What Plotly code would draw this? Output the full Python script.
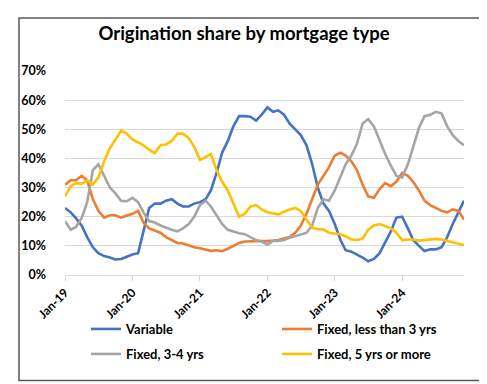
import plotly.graph_objects as go
import pandas as pd

dates = pd.date_range("2019-01-01", periods=72, freq="MS")

variable = [23, 21.5, 19.5, 17, 13, 9.5, 7.5, 6.5, 6, 5.3, 5.5, 6.3,
            7, 7.5, 15, 23, 24.5, 24.5, 25.5, 26, 24.5, 23.5, 23.5, 24.5,
            25, 26, 29, 35, 42, 46, 51, 54.5, 54.5, 54.3, 53, 55,
            57.5, 56, 56.5, 55, 52, 50, 48, 44.5, 38, 30, 24.5, 22,
            17.5, 12, 8.5, 8, 7, 6, 4.7, 5.5, 7.5, 11, 15, 19.7,
            20, 16, 12, 10, 8.2, 8.8, 8.8, 9.5, 13, 17.5, 21.5, 25.5]

fixed_lt3 = [31, 32.5, 32.5, 34, 32.5, 26, 22, 19.7, 20.5, 20.5, 19.7, 20.3,
             21, 22, 18, 16, 15.2, 14.5, 13, 12, 11, 10.8, 10.2, 9.5,
             9.2, 8.8, 8.3, 8.5, 8.2, 9, 10, 11, 11.5, 11.5, 11.7, 11.7,
             11.7, 11.8, 12, 12.5, 13, 14.5, 17, 21, 26, 31, 34, 37,
             41, 42, 41, 39, 36, 31, 27, 26.5, 29.5, 31.5, 30.5, 32,
             35, 34, 32, 29, 25.5, 24, 23, 22, 21.5, 22.5, 22, 19]

fixed_3_4 = [18.5, 15.5, 16.5, 19.5, 25, 36, 38, 34, 30, 28, 25.5, 25.3,
             26.5, 25, 21.5, 18.5, 18, 17, 16.2, 15.5, 15, 16, 17.5, 20,
             24, 25.5, 23.5, 20.5, 17.5, 15.5, 14.8, 14.3, 14, 13, 12, 11.5,
             10.5, 11.7, 11.7, 12, 12.8, 13.3, 13.9, 14.5, 17, 23, 26, 25.5,
             29, 34, 38, 41, 45, 52, 53.5, 51, 46, 41.5, 37.5, 34,
             33.5, 38, 44, 50.5, 54.5, 55, 56, 55.5, 51, 48, 46, 44.5]

fixed_5plus = [27, 30.5, 31.5, 31.3, 32.5, 31, 33.5, 39, 43.5, 46.5, 49.5, 48.5,
               46.5, 45.5, 44.5, 43, 41.8, 44.5, 44.8, 46, 48.5, 48.5, 47, 44,
               39.5, 40.5, 41.5, 36, 32, 29, 24.5, 20, 21, 23.5, 24, 22.5,
               21.5, 21.2, 20.8, 21.7, 22.5, 23, 22, 19, 16.2, 15.8, 15.6, 14.5,
               14.2, 14, 13.3, 12.2, 12, 12.5, 15.5, 17, 17.5, 16.8, 16, 14.5,
               12, 12.2, 12.2, 11.8, 12, 12.3, 12.4, 12.2, 11.7, 11.2, 10.6, 10.3]

series_names = ["Variable", "Fixed, less than 3 yrs", "Fixed, 3-4 yrs", "Fixed, 5 yrs or more"]
series_values = [variable, fixed_lt3, fixed_3_4, fixed_5plus]
colors = ["#4472C4", "#ED7D31", "#A5A5A5", "#FFC000"]
legends = ["legend", "legend", "legend2", "legend2"]

FONT = "Lato"

fig = go.Figure()
for name, vals, col, lg in zip(series_names, series_values, colors, legends):
    fig.add_trace(go.Scatter(
        x=dates, y=[v / 100 for v in vals], mode="lines", name=name,
        line=dict(color=col, width=2.6), legend=lg,
    ))

W, H = 487, 384
ml, mr, mt, mb = 57, 31, 63, 117
pw = W - ml - mr
ph = H - mt - mb

def px2x(px):
    return (px - ml) / pw

def px2y(py):
    return (H - mb - py) / ph

legend_common = dict(
    orientation="h", xanchor="left", yanchor="middle",
    font=dict(family=FONT, size=13, color="#000", weight="bold"),
    entrywidth=146, entrywidthmode="pixels",
    bgcolor="rgba(0,0,0,0)", itemwidth=30,
)

fig.update_layout(
    width=W, height=H,
    margin=dict(l=ml, r=mr, t=mt, b=mb),
    paper_bgcolor="white", plot_bgcolor="white",
    title=dict(text="<b>Origination share by mortgage type</b>",
               x=px2x(236), xref="paper", xanchor="center",
               y=1 - 26 / H, yanchor="middle",
               font=dict(family=FONT, size=18.5, color="#000")),
    showlegend=True,
    legend=dict(x=px2x(78), y=px2y(321), **legend_common),
    legend2=dict(x=px2x(78), y=px2y(346), **legend_common),
    xaxis=dict(
        type="date",
        range=[dates[0], dates[-1]],
        tickformat="%b-%y", dtick="M12", tick0="2019-01-01",
        tickangle=-45,
        showgrid=False, showline=True, linecolor="#D9D9D9", linewidth=1,
        ticks="outside", ticklen=5, tickcolor="#D9D9D9",
        tickfont=dict(family=FONT, size=12, color="#000", weight="bold"),
        ticklabelstandoff=0,
    ),
    yaxis=dict(
        range=[0, 0.7], dtick=0.1, tickformat=".0%",
        showgrid=True, gridcolor="#D9D9D9", gridwidth=1,
        zeroline=False, showline=False,
        tickfont=dict(family=FONT, size=12.5, color="#000", weight="bold"),
        ticklabelstandoff=18,
    ),
    shapes=[dict(
        type="rect", xref="paper", yref="paper",
        x0=px2x(11), x1=px2x(475), y0=px2y(372.5), y1=px2y(10),
        line=dict(color="#595959", width=1.5), fillcolor="rgba(0,0,0,0)",
        layer="below",
    )],
)

fig.write_html("out.html")
